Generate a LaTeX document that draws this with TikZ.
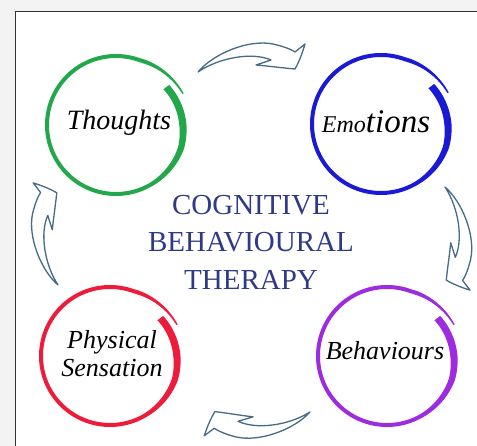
\documentclass[tikz,border=0pt]{standalone}
\usepackage{fontspec}
\setmainfont{Liberation Serif}
\usepackage{tikz}
\usetikzlibrary{calc}
\definecolor{cbtgreen}{HTML}{22A84A}
\definecolor{cbtblue}{HTML}{1A1AD6}
\definecolor{cbtred}{HTML}{EC1C3A}
\definecolor{cbtpurple}{HTML}{9D2BE0}
\definecolor{cbtnavy}{HTML}{2E3A87}
\definecolor{cbtsteel}{HTML}{456B86}
\definecolor{pagegrey}{HTML}{F3F3F3}
\tikzset{
	ringlabel/.style={font=\itshape\fontsize{26}{28}\selectfont, text=black, inner sep=0pt},
	titleline/.style={font=\fontsize{29}{35}\selectfont, text=cbtnavy, inner sep=0pt, anchor=base},
	declare function={
		ringr(\t)=69+5*max(0,1-(\t-25)/45)-6*max(0,(\t-340)/57);
		ringw(\t)=2+1.6*max(0,min(1,(\t-300)/60))-1.3*max(0,1-(\t-25)/40);
	},
	cyclearrow/.pic={
		\draw[draw=cbtsteel, fill=white, line width=1.3pt, line join=round]
			(0,0) .. controls (15,18) and (50,33) .. (75,28)
			.. controls (88,25) and (94,22) .. (97,20) -- (107,28)
			.. controls (104,18) and (101,10) .. (97,3)
			.. controls (85,4) and (70,6) .. (58,7) -- (73,12)
			.. controls (55,20) and (22,15) .. cycle;
	}
}
% brush stroke circle round a centre
\newcommand{\brushring}[2]{%
	\begin{scope}[shift={(#1)}]
		\fill[#2] plot[domain=25:397, samples=150, variable=\t] (\t:{ringr(\t)+ringw(\t)})
			-- plot[domain=397:25, samples=150, variable=\t] (\t:{ringr(\t)-ringw(\t)}) -- cycle;
	\end{scope}}

\begin{document}
\begin{tikzpicture}[x=1pt, y=1pt]
	\useasboundingbox (0,0) rectangle (477,446);
	\fill[pagegrey] (0,0) rectangle (477,446);
	\fill[white] (15.5,0) rectangle (477,434);
	\draw[black!80, line width=1pt] (15.5,0) -- (15.5,434) -- (477,434);

	% ring centres
	\coordinate (TC) at (116,321);
	\coordinate (EC) at (381,322);
	\coordinate (PC) at (110,90);
	\coordinate (BC) at (387,90);

	\brushring{TC}{cbtgreen}
	\brushring{EC}{cbtblue}
	\brushring{PC}{cbtred}
	\brushring{BC}{cbtpurple}

	\node[ringlabel, anchor=base, font=\itshape\fontsize{28}{30}\selectfont] (thoughts) at (119,316) {Thoughts};
	\node[ringlabel, anchor=base] (emotions) at (376,313) {{\fontsize{24}{28}\selectfont Emo}{\fontsize{33}{36}\selectfont tions}};
	\node[ringlabel, align=center] (physical) at (112,92) {Physical\\Sensation};
	\node[ringlabel, anchor=base] (behaviours) at (385,86) {Behaviours};

	\node[titleline] (title1) at (251,231) {COGNITIVE};
	\node[titleline] (title2) at (251,194) {BEHAVIOURAL};
	\node[titleline] (title3) at (251,156) {THERAPY};

	% arrows between the rings
	\pic at (198,374) {cyclearrow};
	\pic[rotate=-91, scale=0.96] at (445,259) {cyclearrow};
	\pic[rotate=178, scale=0.98] at (310,34) {cyclearrow};
	\pic[rotate=89, scale=0.95] at (58,161) {cyclearrow};
\end{tikzpicture}
\end{document}
